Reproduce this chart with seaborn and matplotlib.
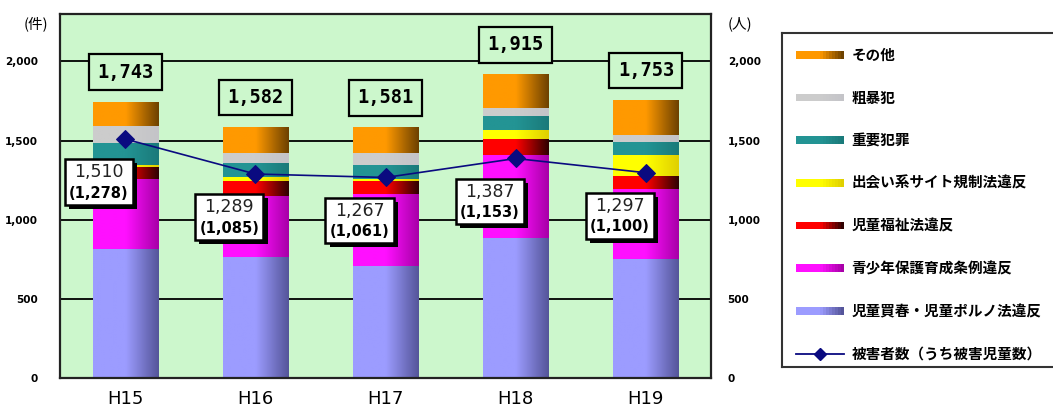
import numpy as np
import pandas as pd
import matplotlib
matplotlib.use("Agg")
import matplotlib.pyplot as plt
import matplotlib.patheffects as pe
from matplotlib.colors import LinearSegmentedColormap
from matplotlib.patches import Patch, Rectangle
from matplotlib.lines import Line2D
from matplotlib.legend_handler import HandlerBase
from matplotlib.offsetbox import AnnotationBbox, TextArea, VPacker
import seaborn as sns

# ─── Data ────────────────────────────────────────────────────────────────────
years = ["H15", "H16", "H17", "H18", "H19"]
child_porn = [810, 762, 705, 880, 751]      # 児童買春・児童ポルノ法違反
youth_ordinance = [443, 386, 453, 527, 443]  # 青少年保護育成条例違反
child_welfare = [78, 95, 85, 99, 80]         # 児童福祉法違反
deai_site = [12, 21, 10, 59, 131]            # 出会い系サイト規制法違反
serious = [140, 94, 91, 85, 80]              # 重要犯罪
violent = [106, 60, 72, 56, 47]              # 粗暴犯
other = [154, 164, 165, 209, 221]            # その他
victims = [1510, 1289, 1267, 1387, 1297]
child_victims = [1278, 1085, 1061, 1153, 1100]

# bottom -> top: (label, values, light colour, dark colour)
layers = [
    ("児童買春・児童ポルノ法違反", child_porn, "#9c9cff", "#55559a"),
    ("青少年保護育成条例違反", youth_ordinance, "#ff10ff", "#a800a8"),
    ("児童福祉法違反", child_welfare, "#ff0000", "#300000"),
    ("出会い系サイト規制法違反", deai_site, "#ffff00", "#e0d000"),
    ("重要犯罪", serious, "#239494", "#1a7a7a"),
    ("粗暴犯", violent, "#cccccc", "#c4c4c8"),
    ("その他", other, "#ff9900", "#6e4200"),
]

BG = "#ccf7cc"
NAVY = "#0a0a80"

plt.rcParams["font.family"] = ["Noto Sans CJK JP", "DejaVu Sans"]

df = pd.DataFrame({"year": years})
cum = np.zeros(len(years))
for name, vals, _, _ in layers:
    cum = cum + np.array(vals)
    df[name] = cum
totals = df[layers[-1][0]].astype(int).tolist()

fig = plt.figure(figsize=(10.53, 4.12), dpi=100)
ax = fig.add_axes([60 / 1053, 34 / 412, 651 / 1053, 364 / 412])
ax.set_facecolor(BG)

# stacked bars: tallest cumulative first, lower layers drawn over them
for name, vals, light, dark in reversed(layers):
    n0 = len(ax.patches)
    sns.barplot(data=df, x="year", y=name, color=light, width=0.5,
                saturation=1, linewidth=0, ax=ax)
    cmap = LinearSegmentedColormap.from_list(name, [light, light, dark])
    grad = np.linspace(0, 1, 64).reshape(1, -1)
    for p in ax.patches[n0:]:
        bb = p.get_bbox()
        ax.imshow(grad, cmap=cmap, extent=[bb.x0, bb.x1, bb.y0, bb.y1],
                  aspect="auto", interpolation="bilinear", clip_path=p,
                  zorder=p.get_zorder() + 0.01)

ax.set_xlim(-0.5, 4.5)
ax.set_ylim(0, 2300)
ticks = [0, 500, 1000, 1500, 2000]
ax.set_yticks(ticks)
ax.set_yticklabels([f"{t:,}" for t in ticks], fontsize=7.5, fontweight="bold",
                   family="DejaVu Sans")
ax.yaxis.grid(True, color="black", lw=1.3)
ax.set_axisbelow(True)
ax.tick_params(axis="y", length=0, pad=16)
ax.tick_params(axis="x", length=0, pad=9, labelsize=13)
for lbl in ax.get_xticklabels():
    lbl.set_family("DejaVu Sans")
ax.set_xlabel("")
ax.set_ylabel("")
for s in ax.spines.values():
    s.set_linewidth(1.6)
    s.set_color("#222222")

# total labels
for i, tot in enumerate(totals):
    ax.text(i, tot + 190, f"{tot:,}", ha="center", va="center", fontsize=13.5,
            fontweight="bold", family="DejaVu Sans Mono", zorder=5,
            bbox=dict(boxstyle="square,pad=0.45", fc=BG, ec="black", lw=1.6))

# victims line on right axis
ax2 = ax.twinx()
ax2.set_ylim(0, 2300)
ax2.set_yticks(ticks)
ax2.set_yticklabels([f"{t:,}" for t in ticks], fontsize=7.5, fontweight="bold",
                    family="DejaVu Sans")
ax2.tick_params(axis="y", length=0, pad=12)
for s in ax2.spines.values():
    s.set_visible(False)
sns.lineplot(x=np.arange(len(years)), y=victims, ax=ax2, color=NAVY,
             marker="D", markersize=9, markeredgecolor=NAVY, linewidth=1.2)
ax2.set_xlim(-0.5, 4.5)

for i, (v, c) in enumerate(zip(victims, child_victims)):
    box = VPacker(children=[
        TextArea(f"{v:,}", textprops=dict(fontsize=12.5, family="DejaVu Sans",
                                          color="#222222")),
        TextArea(f"({c:,})", textprops=dict(fontsize=10.5, fontweight="bold",
                                            family="DejaVu Sans")),
    ], align="center", pad=0, sep=3)
    ab = AnnotationBbox(box, (i - 0.2, v - 272), xycoords="data", pad=0.4,
                        frameon=True, zorder=6,
                        bboxprops=dict(boxstyle="square,pad=0.3", fc="white",
                                       ec="black", lw=1.8))
    ab.patch.set_path_effects([
        pe.SimplePatchShadow(offset=(3, -3), shadow_rgbFace="black", alpha=1),
        pe.Normal()])
    ax2.add_artist(ab)

fig.text(36 / 1053, 1 - 24 / 412, "(件)", ha="center", va="center", fontsize=10.5)
fig.text(740 / 1053, 1 - 24 / 412, "(人)", ha="center", va="center", fontsize=10.5)


# ─── Legend ──────────────────────────────────────────────────────────────────
class GradHandler(HandlerBase):
    def __init__(self, c0, c1, n=16):
        super().__init__()
        self.cmap = LinearSegmentedColormap.from_list("h", [c0, c0, c1])
        self.n = n

    def create_artists(self, legend, orig_handle, xdescent, ydescent,
                       width, height, fontsize, trans):
        h = 5.5
        y = -ydescent + (height - h) / 2
        arts = []
        for k in range(self.n):
            arts.append(Rectangle((-xdescent + k * width / self.n, y),
                                  width / self.n + 0.3, h, lw=0,
                                  facecolor=self.cmap(k / (self.n - 1)),
                                  transform=trans))
        return arts


ax_leg = fig.add_axes([782 / 1053, 45 / 412, 290 / 1053, 334 / 412])
ax_leg.set_xticks([])
ax_leg.set_yticks([])
for s in ax_leg.spines.values():
    s.set_linewidth(1.5)
    s.set_color("#333333")

handles, labels, hmap = [], [], {}
for name, vals, light, dark in reversed(layers):
    h = Patch(color=light)
    handles.append(h)
    labels.append(name)
    hmap[h] = GradHandler(light, dark)
handles.append(Line2D([], [], color=NAVY, marker="D", markersize=6, lw=1.3))
labels.append("被害者数（うち被害児童数）")

ax_leg.legend(handles, labels, handler_map=hmap, loc="upper left",
              bbox_to_anchor=(0.0, 1.0), frameon=False,
              prop=dict(size=10.5, weight="bold"), handlelength=3.3,
              handletextpad=0.5, labelspacing=1.83, borderpad=0.95,
              borderaxespad=0)

fig.savefig("out.png", dpi=100)
